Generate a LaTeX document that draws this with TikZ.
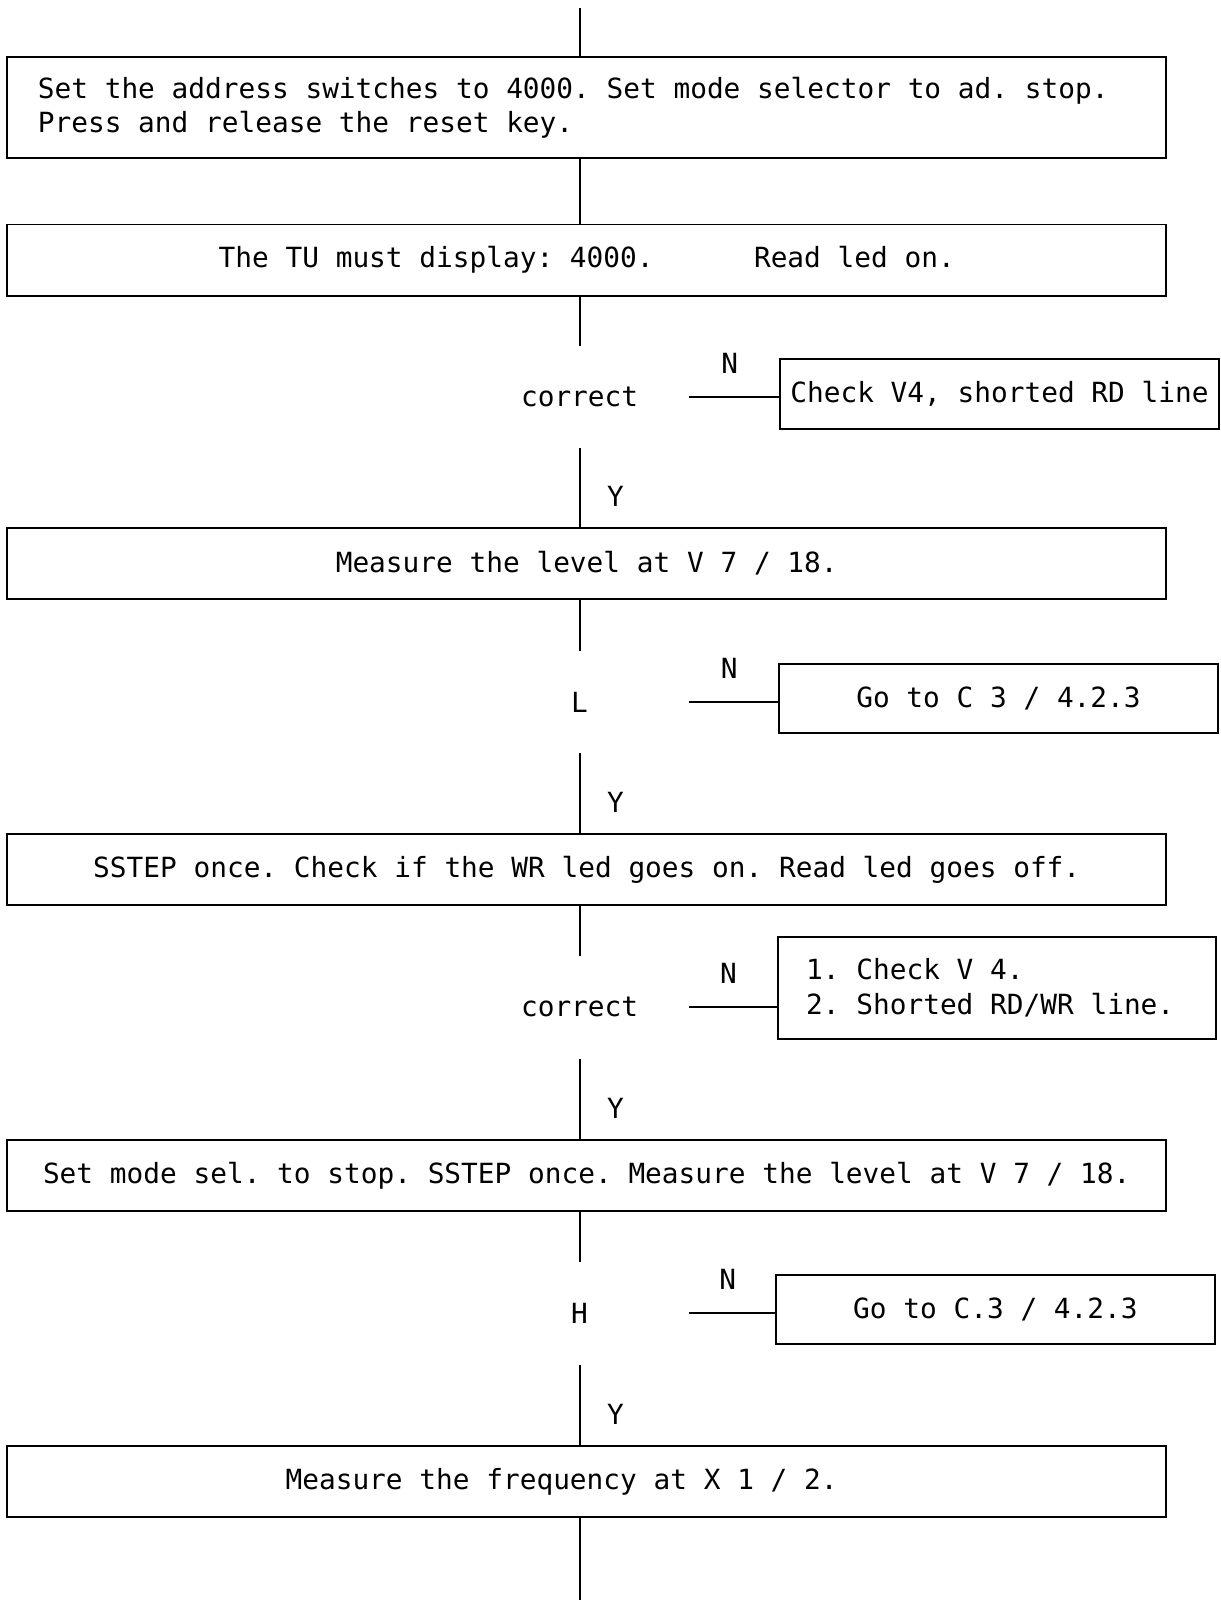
\documentclass[tikz,border=0pt]{standalone}
\usepackage{fontspec}
\newfontfamily\plotfont{DejaVu Sans Mono}
\newcommand\plotsize{\plotfont\fontsize{15.5}{19.3}\selectfont\frenchspacing}

\begin{document}
\begin{tikzpicture}[
  x=0.02cm, y=-0.02cm,
  every node/.style={font=\plotsize},
  line/.style={line width=1.1pt},
  stepbox/.style={draw,line width=1.1pt,minimum width=22.72cm,minimum height=1.4cm,inner sep=0pt},
  test/.style={minimum width=4.28cm,minimum height=2cm,inner sep=0pt},
  fault/.style={draw,line width=1.1pt,minimum width=8.6cm,minimum height=1.36cm,inner sep=0pt},
  yes/.style={right=0.52cm,inner sep=0pt,pos=.62},
  no/.style={above=0.44cm,inner sep=0pt,pos=.45},
]
  \useasboundingbox (0,0) rectangle (1196,1568);
  \coordinate (in) at (568,8);
  \coordinate (out) at (568,1568);
  % main column
  \node[stepbox,text width=21.52cm,align=flush left,inner xsep=0.6cm,minimum height=1.98cm] (b1) at (575,105.5)
    {Set the address switches to 4000. Set mode selector to ad. stop.\\Press and release the reset key.};
  \node[stepbox] (b2) at (575,255) {The TU must display: 4000.\ \ \ \ \ \ Read led on.};
  \node[test] (d1) at (568,389) {correct};
  \node[stepbox] (b3) at (575,552) {Measure the level at V 7 / 18.};
  \node[test] (d2) at (568,688) {L};
  \node[stepbox] (b4) at (575,852) {SSTEP once. Check if the WR led goes on. Read led goes off.};
  \node[test] (d3) at (568,987) {correct};
  \node[stepbox] (b5) at (575,1152) {Set mode sel. to stop. SSTEP once. Measure the level at V 7 / 18.};
  \node[test] (d4) at (568,1287) {H};
  \node[stepbox] (b6) at (575,1452) {Measure the frequency at X 1 / 2.\phantom{000}};
  % fault boxes
  \node[fault] (n1) at (979.5,386) {Check V4, shorted RD line};
  \node[fault] (n2) at (978.5,684.5) {Go to C 3 / 4.2.3};
  \node[fault,minimum height=2cm,text width=7.48cm,align=flush left,inner xsep=0.56cm] (n3) at (977,968)
    {1. Check V 4.\\2. Shorted RD/WR line.};
  \node[fault] (n4) at (975.5,1283.5) {Go to C.3 / 4.2.3};

  \draw[line] (in) -- (b1.north -| in);
  \draw[line] (b1.south -| in) -- (b2.north -| in);
  \foreach \d/\n/\a/\b in {d1/n1/b2/b3, d2/n2/b3/b4, d3/n3/b4/b5, d4/n4/b5/b6} {
    \draw[line] (\a.south -| in) -- (\d.north);
    \draw[line] (\d.south) -- node[yes] {Y} (\b.north -| in);
    \draw[line] (\d.east) -- node[no] {N} (\n.west |- \d.east);
  }
  \draw[line] (b6.south -| in) -- (out);
\end{tikzpicture}
\end{document}
